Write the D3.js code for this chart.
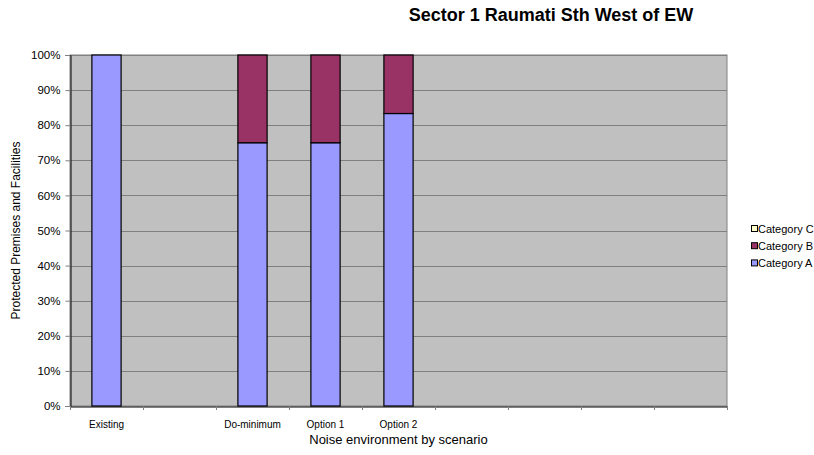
<!DOCTYPE html>
<html>
<head>
<meta charset="utf-8">
<script src="https://cdn.jsdelivr.net/npm/d3@7"></script>
<style>
  html, body { margin: 0; padding: 0; background: #fff; }
  svg { display: block; font-family: "Liberation Sans", Arial, sans-serif; }
</style>
</head>
<body>
<svg id="chart" width="814" height="455"></svg>
<script>
// Scenario slots along the x axis (empty slots are kept as spacing)
const scenarios = ["Existing", "", "Do-minimum", "Option 1", "Option 2", "", "", "", ""];
// Share of protected premises by noise category, per scenario
const categoryA = [1.0, 0, 0.75, 0.75, 0.8333, 0, 0, 0, 0];
const categoryB = [0, 0, 0.25, 0.25, 0.1667, 0, 0, 0, 0];
const categoryC = [0, 0, 0, 0, 0, 0, 0, 0, 0];
const seriesNames = ["Category A", "Category B", "Category C"];
const seriesColors = ["#9999FF", "#993366", "#FFFFCC"];
const yTicks = [0, 0.1, 0.2, 0.3, 0.4, 0.5, 0.6, 0.7, 0.8, 0.9, 1.0];

const svg = d3.select("#chart");
const plot = { left: 70, top: 55, right: 727, bottom: 406 };
const font = "'Liberation Sans', Arial, sans-serif";

const rows = scenarios.map((s, i) => ({
  key: "s" + i, label: s,
  "Category A": categoryA[i], "Category B": categoryB[i], "Category C": categoryC[i]
}));

const x = d3.scaleBand().domain(rows.map(r => r.key))
  .range([plot.left, plot.right]).paddingInner(0.6).paddingOuter(0.3);
const slot = d3.scaleBand().domain(rows.map(r => r.key)).range([plot.left, plot.right]);
const y = d3.scaleLinear().domain([0, 1]).range([plot.bottom, plot.top]);

// Plot background
svg.append("rect")
  .attr("x", plot.left).attr("y", plot.top)
  .attr("width", plot.right - plot.left).attr("height", plot.bottom - plot.top)
  .attr("fill", "#C0C0C0").attr("stroke", "#808080").attr("stroke-width", 1);

// Horizontal gridlines
svg.append("g").selectAll("line").data(yTicks.slice(1)).join("line")
  .attr("x1", plot.left).attr("x2", plot.right)
  .attr("y1", d => Math.round(y(d)) + 0.5).attr("y2", d => Math.round(y(d)) + 0.5)
  .attr("stroke", "#808080").attr("stroke-width", 1);

// Stacked bars
const stack = d3.stack().keys(seriesNames)(rows);
svg.append("g").selectAll("g").data(stack).join("g")
  .attr("fill", (d, i) => seriesColors[i])
  .selectAll("rect").data(d => d.filter(p => p[1] - p[0] > 0)).join("rect")
  .attr("x", d => x(d.data.key))
  .attr("width", x.bandwidth())
  .attr("y", d => y(d[1]))
  .attr("height", d => y(d[0]) - y(d[1]))
  .attr("stroke", "#000").attr("stroke-width", 1.2);

// Y axis
const yAxis = svg.append("g")
  .attr("transform", `translate(${plot.left + 0.5},0)`)
  .call(d3.axisLeft(y).tickValues(yTicks).tickFormat(d3.format(".0%")).tickSize(5).tickPadding(5));
yAxis.select(".domain").attr("stroke", "#000");
yAxis.selectAll(".tick line").attr("stroke", "#808080");
yAxis.selectAll("text").attr("font-size", 11.5).attr("fill", "#000").attr("font-family", font);

// X axis
const xAxis = svg.append("g")
  .attr("transform", `translate(0,${plot.bottom + 0.5})`)
  .call(d3.axisBottom(slot).tickSize(0).tickPadding(14).tickFormat(k => rows.find(r => r.key === k).label));
xAxis.select(".domain").attr("stroke", "#000").attr("stroke-width", 1.2);
xAxis.selectAll("text").attr("font-size", 10).attr("fill", "#000").attr("font-family", font);
// Category separator ticks
const bounds = slot.domain().map(k => slot(k)).concat([plot.right]);
svg.append("g").selectAll("line").data(bounds).join("line")
  .attr("x1", d => Math.round(d) + 0.5).attr("x2", d => Math.round(d) + 0.5)
  .attr("y1", plot.bottom).attr("y2", plot.bottom + 4)
  .attr("stroke", "#808080");

// Axis titles
svg.append("text")
  .attr("x", (plot.left + plot.right) / 2).attr("y", 444)
  .attr("text-anchor", "middle").attr("font-size", 13)
  .text("Noise environment by scenario");
svg.append("text")
  .attr("transform", `translate(20,${(plot.top + plot.bottom) / 2}) rotate(-90)`)
  .attr("text-anchor", "middle").attr("font-size", 12)
  .text("Protected Premises and Facilities");

// Chart title
svg.append("text")
  .attr("x", 551).attr("y", 21)
  .attr("text-anchor", "middle").attr("font-size", 18).attr("font-weight", "bold")
  .text("Sector 1 Raumati Sth West of EW");

// Legend (top entry is the last series)
const legendItems = seriesNames.map((n, i) => ({ name: n, color: seriesColors[i] })).reverse();
const legend = svg.append("g").attr("transform", "translate(751,225)");
const li = legend.selectAll("g").data(legendItems).join("g")
  .attr("transform", (d, i) => `translate(0,${i * 17.2})`);
li.append("rect").attr("x", 0.5).attr("y", 0.5).attr("width", 6).attr("height", 6)
  .attr("fill", d => d.color).attr("stroke", "#000").attr("stroke-width", 1);
li.append("text").attr("x", 7).attr("y", 7.5).attr("font-size", 11).text(d => d.name);
</script>
</body>
</html>
